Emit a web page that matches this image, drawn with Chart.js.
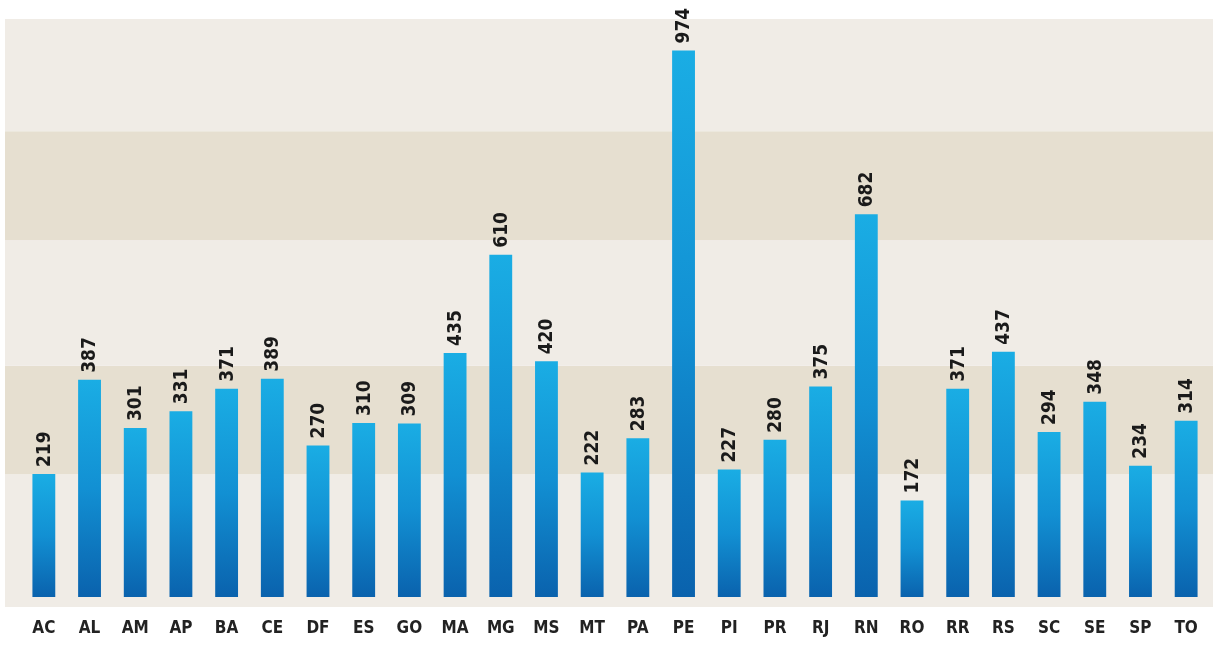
<!DOCTYPE html>
<html>
<head>
<meta charset="utf-8">
<script src="https://cdn.jsdelivr.net/npm/chart.js@4/dist/chart.umd.min.js"></script>
<style>
  html, body { margin: 0; padding: 0; background: #ffffff; }
  #wrap { width: 1216px; height: 654px; }
</style>
</head>
<body>
<div id="wrap"><canvas id="chart" width="1216" height="654"></canvas></div>
<script>
// states (UF) and their values
var states = ["AC", "AL", "AM", "AP", "BA", "CE", "DF", "ES", "GO", "MA", "MG", "MS", "MT", "PA",
              "PE", "PI", "PR", "RJ", "RN", "RO", "RR", "RS", "SC", "SE", "SP", "TO"];
var values = [219, 387, 301, 331, 371, 389, 270, 310, 309, 435, 610, 420, 222, 283,
              974, 227, 280, 375, 682, 172, 371, 437, 294, 348, 234, 314];
// background band edges (value units), alternating light / dark
var bandEdges = [219, 412, 636, 830];
var bandColors = ["#f0ece6", "#e6dfd0"];
var yMax = 1030;

var FONT = "'DejaVu Sans Condensed', 'Liberation Sans Narrow', sans-serif";

// stripes behind the bars
var bandsPlugin = {
    id: 'bands',
    beforeDraw: function (chart) {
        var ctx = chart.ctx, y = chart.scales.y, area = chart.chartArea;
        ctx.save();
        ctx.fillStyle = '#ffffff';
        ctx.fillRect(0, 0, chart.width, chart.height);
        var left = 5, right = 1213;
        var edges = [-1].concat(bandEdges).concat([yMax]);
        for (var i = 0; i < edges.length - 1; i++) {
            var top = y.getPixelForValue(edges[i + 1]);
            var bottom = i == 0 ? area.bottom + 10 : y.getPixelForValue(edges[i]);
            ctx.fillStyle = bandColors[i % 2];
            ctx.fillRect(left, top, right - left, bottom - top);
        }
        ctx.restore();
    }
};

// rotated value above each bar
var valueLabels = {
    id: 'valueLabels',
    afterDatasetsDraw: function (chart) {
        var ctx = chart.ctx;
        var meta = chart.getDatasetMeta(0);
        ctx.save();
        ctx.font = "bold 19px " + FONT;
        ctx.fillStyle = '#1a1a1a';
        ctx.textAlign = 'left';
        ctx.textBaseline = 'middle';
        meta.data.forEach(function (bar, i) {
            ctx.save();
            ctx.translate(bar.x + 1, bar.y - 7);
            ctx.rotate(-Math.PI / 2);
            ctx.fillText(String(values[i]), 0, 0);
            ctx.restore();
        });
        ctx.restore();
    }
};

var ctx = document.getElementById('chart').getContext('2d');
var chart = new Chart(ctx, {
    type: 'bar',
    data: {
        labels: states,
        datasets: [{
            data: values,
            backgroundColor: function (c) {
                var chart = c.chart;
                if (!chart.chartArea || !chart.scales.y) return '#1290d0';
                var y = chart.scales.y;
                var top = y.getPixelForValue(c.raw);
                var bottom = y.getPixelForValue(0);
                var g = chart.ctx.createLinearGradient(0, top, 0, bottom);
                g.addColorStop(0, '#1aade4');
                g.addColorStop(0.5, '#1290d3');
                g.addColorStop(1, '#0a62ad');
                return g;
            },
            borderWidth: 0,
            barPercentage: 1,
            categoryPercentage: 0.5
        }]
    },
    options: {
        responsive: false,
        animation: false,
        layout: { padding: { left: 21, right: 7, top: 19, bottom: 0 } },
        plugins: {
            legend: { display: false },
            tooltip: { enabled: false }
        },
        scales: {
            x: {
                grid: { display: false, drawTicks: false },
                border: { display: false },
                afterFit: function (scale) {
                    scale.height = 57;
                    scale.paddingLeft = 0;
                    scale.paddingRight = 0;
                },
                ticks: {
                    color: '#222222',
                    font: { family: FONT, size: 17, weight: 'bold' },
                    padding: 21,
                    maxRotation: 0,
                    autoSkip: false
                }
            },
            y: {
                min: 0,
                max: yMax,
                display: false
            }
        }
    },
    plugins: [bandsPlugin, valueLabels]
});
</script>
</body>
</html>
